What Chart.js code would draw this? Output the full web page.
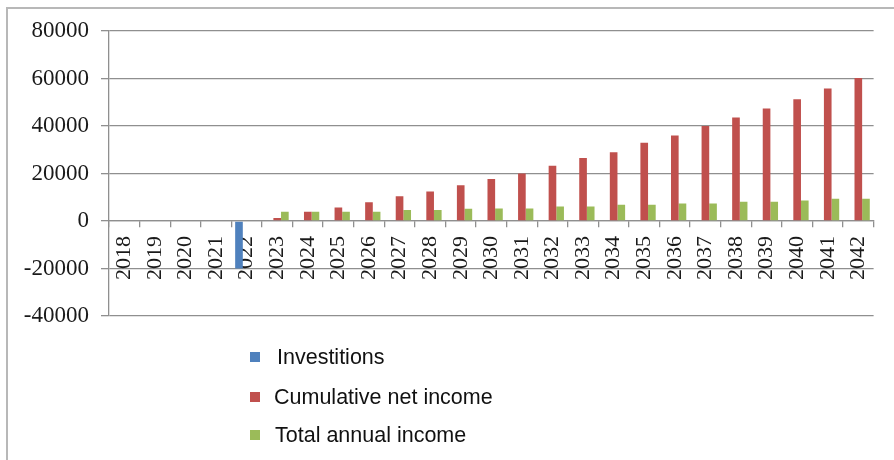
<!DOCTYPE html>
<html>
<head>
<meta charset="utf-8">
<script src="https://cdn.jsdelivr.net/npm/chart.js@4/dist/chart.umd.min.js"></script>
<style>
  body { margin: 0; background: #fff; }
  #wrap { position: relative; width: 894px; height: 460px; overflow: hidden; }
  #frame { position: absolute; left: 6px; top: 7px; right: -10px; bottom: -10px;
           border-left: 2px solid #b8b8b8; border-top: 2px solid #b8b8b8; }
  canvas { position: absolute; left: 0; top: 0; }
  #legend { position: absolute; left: 250px; top: 345px; font-family: "Liberation Sans", Arial, sans-serif;
            font-size: 21.5px; color: #111; }
  .item { position: absolute; white-space: nowrap; height: 24px; line-height: 24px; }
  .box { position: absolute; width: 10px; height: 10px; top: 7px; left: 0; }
</style>
</head>
<body>
<div id="wrap">
  <div id="frame"></div>
  <canvas id="chart" width="894" height="460"></canvas>
  <div id="legend"></div>
</div>
<script>
const years = ['2018','2019','2020','2021','2022','2023','2024','2025','2026','2027','2028','2029','2030',
  '2031','2032','2033','2034','2035','2036','2037','2038','2039','2040','2041','2042'];

const investitions = [null, null, null, null, -20000, null, null, null, null, null, null, null, null,
  null, null, null, null, null, null, null, null, null, null, null, null];

const cumulativeNetIncome = [null, null, null, null, null, 1300, 3900, 5700, 7900, 10400, 12400, 15100, 17700,
  20000, 23300, 26500, 29000, 32900, 36000, 40000, 43600, 47400, 51300, 55800, 60200];

const totalAnnualIncome = [null, null, null, null, null, 3900, 3900, 3900, 3900, 4600, 4600, 5200, 5300,
  5300, 6100, 6100, 6800, 6800, 7400, 7400, 8100, 8100, 8650, 9350, 9350];

const seriesNames = ['Investitions', 'Cumulative net income', 'Total annual income'];
const seriesColors = ['#4F81BD', '#C0504D', '#9BBB59'];
const yTicks = [-40000, -20000, 0, 20000, 40000, 60000, 80000];

const gridColor = '#8f8f8f';

new Chart(document.getElementById('chart'), {
  type: 'bar',
  data: {
    labels: years,
    datasets: [investitions, cumulativeNetIncome, totalAnnualIncome].map((d, i) => ({
      label: seriesNames[i],
      data: d,
      backgroundColor: seriesColors[i],
      categoryPercentage: 0.75,
      barPercentage: 1.0
    }))
  },
  options: {
    responsive: false,
    animation: false,
    layout: { padding: { left: 0, top: 31, right: 14, bottom: 144 } },
    plugins: { legend: { display: false }, tooltip: { enabled: false } },
    scales: {
      x: {
        position: { y: 0 },
        z: 1,
        grid: { drawOnChartArea: false, drawTicks: true, tickLength: 6, color: gridColor, lineWidth: 1.3, offset: true },
        border: { color: gridColor, width: 1.3 },
        ticks: {
          minRotation: 90, maxRotation: 90, autoSkip: false, padding: 9,
          color: '#1a1a1a',
          font: { family: '"Liberation Serif", "Times New Roman", serif', size: 22 }
        }
      },
      y: {
        min: -40000, max: 80000,
        afterFit: (s) => { s.width = 109; },
        afterBuildTicks: (s) => { s.ticks = yTicks.map(v => ({ value: v })); },
        grid: { color: gridColor, lineWidth: 1.3, tickLength: 8 },
        border: { color: gridColor, width: 1.3 },
        ticks: {
          padding: 12,
          color: '#1a1a1a',
          callback: (v) => String(v),
          font: { family: '"Liberation Serif", "Times New Roman", serif', size: 23 }
        }
      }
    }
  }
});

// legend as a vertical list under the plot
const legend = document.getElementById('legend');
const legendTops = [0, 40, 78];
const textLefts = [27, 24, 25];
seriesNames.forEach((name, i) => {
  const item = document.createElement('div');
  item.className = 'item';
  item.style.top = legendTops[i] + 'px';
  item.innerHTML = '<span class="box" style="background:' + seriesColors[i] + '"></span>' +
    '<span style="position:absolute;left:' + textLefts[i] + 'px">' + name + '</span>';
  legend.appendChild(item);
});
</script>
</body>
</html>
